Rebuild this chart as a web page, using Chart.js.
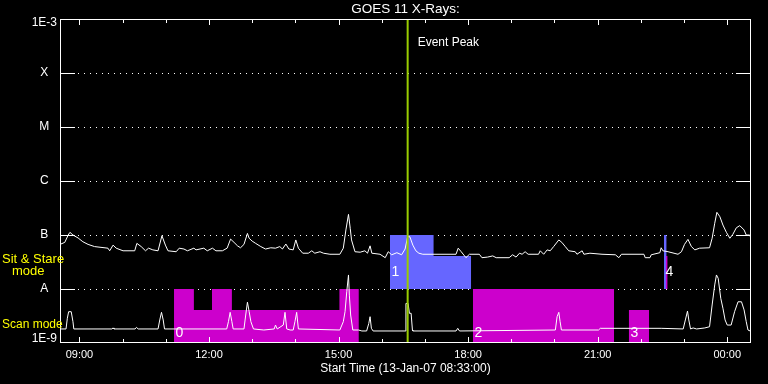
<!DOCTYPE html>
<html lang="en">
<head>
  <meta charset="UTF-8">
  <title>GOES 11 X-Rays</title>
  <script src="https://cdn.jsdelivr.net/npm/chart.js"></script>
  <style>
    html, body { margin: 0; padding: 0; background: #000; }
    #wrap { width: 768px; height: 384px; }
  </style>
</head>
<body>
  <div id="wrap"><canvas id="goes"></canvas></div>
  <script>
    // times are clock hours: 8.55 = 08:33, 24.0 = 00:00 on the next day
    const longTime = [8.57, 8.66, 8.74, 8.78, 8.85, 8.97, 9.08, 9.20, 9.35, 9.66, 9.70, 9.78, 9.85, 10.01, 10.28,
      10.33, 10.43, 10.53, 10.60, 10.70, 10.82, 10.91, 10.99, 11.05, 11.24, 11.31, 11.42, 11.50, 11.65, 11.70,
      11.88, 11.96, 12.08, 12.16, 12.31, 12.42, 12.50, 12.58, 12.66, 12.73, 12.81, 12.89, 12.93, 13.00, 13.08,
      13.20, 13.31, 13.43, 13.54, 13.64, 13.70, 13.78, 13.85, 13.95, 14.01, 14.07, 14.17, 14.30, 14.38, 14.45,
      14.57, 14.65, 14.80, 15.03, 15.11, 15.17, 15.23, 15.27, 15.30, 15.38, 15.50, 15.61, 15.67, 15.73, 15.77,
      15.96, 16.08, 16.15, 16.23, 16.35, 16.46, 16.54, 16.60, 16.65, 16.72, 16.79, 16.86, 16.95, 17.72, 17.77,
      17.84, 17.95, 18.03, 18.26, 18.32, 18.45, 18.57, 18.65, 18.95, 19.03, 19.11, 19.19, 19.25, 19.32, 19.39,
      19.63, 19.67, 19.75, 19.83, 19.90, 19.98, 20.10, 20.17, 20.25, 20.33, 20.48, 20.52, 20.64, 20.68, 20.82,
      21.10, 21.41, 21.49, 21.55, 22.07, 22.10, 22.21, 22.24, 22.44, 22.47, 22.51, 22.63, 22.86, 22.94, 23.01,
      23.09, 23.17, 23.25, 23.36, 23.59, 23.65, 23.71, 23.76, 23.83, 23.90, 23.98, 24.06, 24.13, 24.21, 24.29,
      24.39, 24.44, 24.52, 24.55];
    const longFlux = [6.8e-8, 7.3e-8, 1.0e-7, 1.12e-7, 1.0e-7, 8.8e-8, 7.5e-8, 6.7e-8, 6.1e-8, 5.7e-8, 5.1e-8, 6.5e-8, 5.7e-8, 5.1e-8, 5.1e-8,
      7.0e-8, 6.1e-8, 5.1e-8, 5.7e-8, 5.3e-8, 5.1e-8, 9.7e-8, 6.5e-8, 5.1e-8, 4.9e-8, 5.7e-8, 5.5e-8, 5.1e-8, 5.7e-8, 5.3e-8,
      5.7e-8, 5.1e-8, 5.7e-8, 5.1e-8, 5.1e-8, 5.7e-8, 8.4e-8, 7.3e-8, 6.3e-8, 5.8e-8, 6.7e-8, 1.07e-7, 8.7e-8, 7.7e-8, 7.0e-8,
      6.1e-8, 5.5e-8, 5.8e-8, 5.7e-8, 6.1e-8, 5.5e-8, 6.8e-8, 5.5e-8, 5.3e-8, 8.1e-8, 5.7e-8, 4.6e-8, 4.6e-8, 5.1e-8, 4.6e-8,
      4.9e-8, 4.6e-8, 4.4e-8, 4.4e-8, 5.7e-8, 1.24e-7, 2.41e-7, 1.33e-7, 8.1e-8, 4.9e-8, 4.8e-8, 5.1e-8, 4.6e-8, 6.3e-8, 4.6e-8,
      4.4e-8, 3.8e-8, 4.9e-8, 4.3e-8, 4.7e-8, 4.3e-8, 5.5e-8, 9.3e-8, 9.3e-8, 6.5e-8, 5.1e-8, 4.6e-8, 4.4e-8, 4.4e-8, 5.7e-8,
      4.9e-8, 3.8e-8, 4.4e-8, 4.4e-8, 3.8e-8, 3.9e-8, 4.1e-8, 3.8e-8, 3.8e-8, 4.3e-8, 3.9e-8, 4.6e-8, 4.4e-8, 4.9e-8, 4.4e-8,
      4.4e-8, 5.1e-8, 4.4e-8, 5.3e-8, 5.1e-8, 6.1e-8, 8.1e-8, 7.3e-8, 6.1e-8, 5.1e-8, 4.9e-8, 4.4e-8, 5.1e-8, 4.4e-8, 4.6e-8,
      4.4e-8, 4.3e-8, 3.8e-8, 4.4e-8, 4.4e-8, 3.8e-8, 3.8e-8, 4.3e-8, 4.7e-8, 5.8e-8, 5.1e-8, 4.9e-8, 4.4e-8, 4.9e-8, 6.7e-8,
      8.3e-8, 6.1e-8, 5.3e-8, 5.7e-8, 5.8e-8, 8.7e-8, 1.65e-7, 2.63e-7, 2.18e-7, 1.53e-7, 1.12e-7, 8.7e-8, 1.03e-7, 1.36e-7, 1.49e-7,
      1.24e-7, 1.0e-7, 1.0e-7, 8.7e-8];

    const shortTime = [8.57, 8.69, 8.72, 8.75, 8.81, 8.85, 8.87, 9.75, 9.78, 9.80, 10.29, 10.32, 10.36, 10.82, 10.86,
      10.90, 10.94, 10.97, 12.41, 12.45, 12.49, 12.53, 12.56, 12.81, 12.85, 12.89, 12.93, 12.97, 13.03, 13.27,
      13.51, 13.54, 13.58, 13.72, 13.76, 13.80, 13.88, 13.95, 13.99, 14.03, 14.07, 15.03, 15.11, 15.15, 15.19,
      15.23, 15.25, 15.28, 15.33, 15.46, 15.54, 15.65, 15.70, 15.73, 15.76, 15.80, 16.54, 16.56, 16.61, 16.64,
      16.68, 16.71, 16.72, 17.72, 17.76, 17.80, 20.02, 20.06, 20.10, 20.13, 20.16, 21.02, 21.06, 22.47, 22.98,
      23.03, 23.08, 23.11, 23.15, 23.21, 23.29, 23.48, 23.59, 23.65, 23.71, 23.75, 23.79, 23.85, 23.90, 23.95,
      24.00, 24.09, 24.17, 24.25, 24.33, 24.39, 24.44, 24.48, 24.53];
    const shortFlux = [1.82e-9, 1.82e-9, 2.87e-9, 3.8e-9, 3.8e-9, 2.48e-9, 1.82e-9, 1.82e-9, 1.9e-9, 1.82e-9, 1.82e-9, 1.95e-9, 1.82e-9, 1.82e-9, 2.67e-9,
      3.7e-9, 2.67e-9, 1.82e-9, 1.82e-9, 2.48e-9, 3.7e-9, 2.48e-9, 1.82e-9, 1.82e-9, 3.3e-9, 5.7e-9, 3.8e-9, 2.48e-9, 1.82e-9, 1.74e-9,
      1.82e-9, 2.15e-9, 1.82e-9, 2.15e-9, 3.7e-9, 1.82e-9, 1.74e-9, 1.74e-9, 2.48e-9, 3.7e-9, 1.82e-9, 1.74e-9, 2.48e-9, 3.8e-9, 8.9e-9,
      1.82e-8, 7.7e-9, 3.3e-9, 1.74e-9, 1.74e-9, 1.67e-9, 1.67e-9, 2.3e-9, 3.07e-9, 1.87e-9, 1.67e-9, 1.67e-9, 5.4e-9, 5.4e-9, 3.55e-9,
      3.55e-9, 1.74e-9, 1.67e-9, 1.67e-9, 1.87e-9, 1.67e-9, 1.74e-9, 3.07e-9, 3.7e-9, 2.48e-9, 1.74e-9, 1.74e-9, 1.87e-9, 1.87e-9, 1.82e-9,
      2.67e-9, 3.9e-9, 2.67e-9, 1.82e-9, 1.9e-9, 1.82e-9, 1.9e-9, 2.0e-9, 5.06e-9, 1.19e-8, 1.82e-8, 1.58e-8, 6.7e-9, 4.4e-9, 2.67e-9,
      2.15e-9, 2.15e-9, 3.8e-9, 5.8e-9, 5.8e-9, 4.1e-9, 2.48e-9, 1.74e-9, 1.67e-9];

    // observing mode intervals (scan = magenta, sit & stare = blue)
    const scanStart = [11.19, 11.65, 12.07, 12.53, 15.02, 18.11, 21.72, 22.575];
    const scanEnd = [11.65, 12.07, 12.53, 15.02, 15.47, 21.38, 22.19, 22.62];
    const scanLow = [1e-9, 1e-9, 1e-9, 1e-9, 1e-9, 1e-9, 1e-9, 1e-8];
    const scanHigh = [1e-8, 4.1e-9, 1e-8, 4.1e-9, 1e-8, 1e-8, 4.1e-9, 4.1e-8];
    const stareStart = [16.19, 17.20, 22.535];
    const stareEnd = [17.20, 18.07, 22.597];
    const stareLow = [1e-8, 1e-8, 1e-8];
    const stareHigh = [1e-7, 4.1e-8, 1e-7];

    const modeNames = ['0', '1', '2', '3', '4'];
    const modeTimes = [11.19, 16.19, 18.11, 21.72, 22.535];
    const modeKinds = ['scan', 'stare', 'scan', 'scan', 'stare'];

    const eventTime = 16.60;
    const xTickHours = [9, 10, 11, 12, 13, 14, 15, 16, 17, 18, 19, 20, 21, 22, 23, 24];
    const yTickValues = [1e-9, 1e-8, 1e-7, 1e-6, 1e-5, 1e-4, 1e-3];
    const yTickLabels = ['1E-9', 'A', 'B', 'C', 'M', 'X', '1E-3'];

    const FONT = 'Liberation Sans';
    const MAGENTA = '#cc00cc';
    const BLUE = '#6666ff';
    const GREEN = '#99cc00';

    // join touching intervals with the same floor into one stepped outline
    function modeSets(start, end, low, high, color, order) {
      const runs = [];
      start.forEach((s, i) => {
        const last = runs[runs.length - 1];
        if (last && last.end === s && last.low === low[i]) {
          last.pts.push({x: s, y: high[i]});
          last.end = end[i];
        } else {
          runs.push({low: low[i], end: end[i], pts: [{x: s, y: high[i]}]});
        }
      });
      return runs.map(r => ({
        data: r.pts.concat([{x: r.end, y: r.pts[r.pts.length - 1].y}]),
        stepped: true,
        borderWidth: 0, borderColor: 'rgba(0,0,0,0)',
        backgroundColor: color, fill: {value: r.low},
        pointRadius: 0, order: order
      }));
    }

    const datasets = [
      {
        data: longTime.map((t, i) => ({x: t, y: longFlux[i]})),
        borderColor: '#fff', borderWidth: 1, pointRadius: 0, fill: false, order: 1
      },
      {
        data: shortTime.map((t, i) => ({x: t, y: shortFlux[i]})),
        borderColor: '#fff', borderWidth: 1, pointRadius: 0, fill: false, order: 1
      },
      {
        data: [{x: eventTime, y: 1e-9}, {x: eventTime, y: 1e-3}],
        borderColor: GREEN, borderWidth: 2, pointRadius: 0, fill: false, order: 0
      }
    ].concat(
      modeSets(scanStart, scanEnd, scanLow, scanHigh, MAGENTA, 2),
      modeSets(stareStart, stareEnd, stareLow, stareHigh, BLUE, 3)
    );

    // IDL style frame: inside ticks, dotted level lines, annotations
    const framePlugin = {
      id: 'frame',
      beforeDatasetsDraw(chart) {
        const {ctx, chartArea: a, scales: {y}} = chart;
        ctx.save();
        ctx.strokeStyle = '#fff';
        ctx.lineWidth = 1;
        y.ticks.forEach((t, i) => {
          if (i === 0 || i === y.ticks.length - 1) return;
          const py = Math.round(y.getPixelForValue(t.value)) + 0.5;
          ctx.setLineDash([1, 5]);
          ctx.beginPath(); ctx.moveTo(a.left + 18, py); ctx.lineTo(a.right - 15, py); ctx.stroke();
          ctx.setLineDash([]);
          ctx.beginPath();
          ctx.moveTo(a.left, py); ctx.lineTo(a.left + 15, py);
          ctx.moveTo(a.right - 15, py); ctx.lineTo(a.right, py);
          ctx.stroke();
        });
        ctx.restore();
      },
      afterDatasetsDraw(chart) {
        const {ctx, chartArea: a, scales: {x, y}} = chart;
        ctx.save();
        ctx.strokeStyle = '#fff';
        ctx.lineWidth = 1;
        ctx.strokeRect(a.left + 0.5, a.top + 0.5, a.right - a.left - 1, a.bottom - a.top - 1);
        ctx.beginPath();
        x.ticks.forEach(t => {
          const px = Math.round(x.getPixelForValue(t.value)) + 0.5;
          const len = t.value % 3 === 0 ? 6 : 4;
          ctx.moveTo(px, a.bottom); ctx.lineTo(px, a.bottom - len);
          ctx.moveTo(px, a.top); ctx.lineTo(px, a.top + len);
        });
        ctx.stroke();

        ctx.fillStyle = '#fff';
        ctx.font = '12px "' + FONT + '"';
        ctx.textAlign = 'left';
        ctx.textBaseline = 'middle';
        ctx.fillText('Event Peak', x.getPixelForValue(eventTime) + 10, a.top + 24);

        const yA = y.getPixelForValue(1e-8);
        ctx.font = '14px "' + FONT + '"';
        ctx.textAlign = 'center';
        modeNames.forEach((m, i) => {
          const px = x.getPixelForValue(modeTimes[i]) + 5.5;
          const py = modeKinds[i] === 'scan' ? a.bottom - 10 : yA - 17;
          ctx.fillText(m, px, py);
        });

        ctx.fillStyle = '#ffff00';
        ctx.textAlign = 'left';
        ctx.textBaseline = 'alphabetic';
        ctx.font = '13px "' + FONT + '"';
        ctx.fillText('Sit & Stare', 2, yA - 26);
        ctx.fillText('mode', 12, yA - 14);
        ctx.font = '12px "' + FONT + '"';
        ctx.fillText('Scan mode', 2, yA + 39);
        ctx.restore();
      }
    };

    new Chart(document.getElementById('goes'), {
      type: 'line',
      data: {datasets: datasets},
      options: {
        responsive: true,
        maintainAspectRatio: false,
        animation: false,
        events: [],
        layout: {padding: {left: 0, right: 17, top: 0, bottom: 0}},
        plugins: {
          legend: {display: false},
          tooltip: {enabled: false},
          title: {
            display: true, text: 'GOES 11 X-Rays:', color: '#fff', fullSize: false,
            font: {family: FONT, size: 13.5, weight: 'normal'},
            padding: {top: 1, bottom: 1.8}
          }
        },
        scales: {
          x: {
            type: 'linear', min: 8.55, max: 24.55,
            afterBuildTicks: s => { s.ticks = xTickHours.map(v => ({value: v})); },
            afterFit: s => { s.height = 41; },
            grid: {display: false, drawTicks: false},
            border: {display: false},
            ticks: {
              color: '#fff', autoSkip: false, maxRotation: 0, padding: 5,
              font: {family: FONT, size: 11},
              callback: v => v % 3 === 0 ? String(v % 24).padStart(2, '0') + ':00' : ''
            },
            title: {
              display: true, text: 'Start Time (13-Jan-07 08:33:00)', color: '#fff',
              font: {family: FONT, size: 12}, padding: {top: 0, bottom: 8}
            }
          },
          y: {
            type: 'logarithmic', min: 1e-9, max: 1e-3,
            afterBuildTicks: s => { s.ticks = yTickValues.map(v => ({value: v})); },
            afterFit: s => { s.width = 60; },
            grid: {display: false, drawTicks: false},
            border: {display: false},
            ticks: {
              color: '#fff', crossAlign: 'center', padding: 3,
              font: c => ({family: FONT, size: 12, lineHeight: (c.index === 0 || c.index === 6) ? '8px' : 1.2}),
              callback: (v, i) => i === 0 ? [yTickLabels[i], ''] : (i === 6 ? ['', yTickLabels[i]] : yTickLabels[i])
            }
          }
        }
      },
      plugins: [framePlugin]
    });
  </script>
</body>
</html>
